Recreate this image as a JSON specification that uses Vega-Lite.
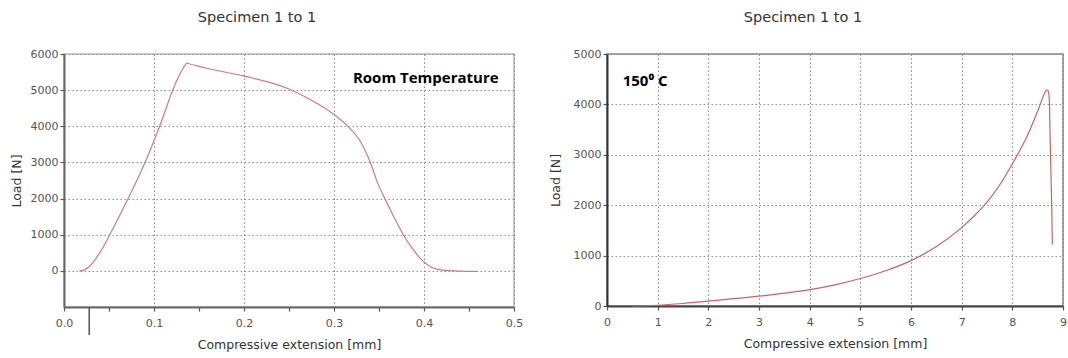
{
  "$schema": "https://vega.github.io/schema/vega-lite/v6.json",
  "background": "white",
  "padding": {"left": 9, "top": 8, "right": 5, "bottom": 5},
  "config": {
    "font": "DejaVu Sans",
    "axis": {
      "labelFont": "DejaVu Sans", "labelFontSize": 11, "labelColor": "#555",
      "titleFont": "DejaVu Sans", "titleFontSize": 12.5, "titleFontWeight": "normal", "titleColor": "#333",
      "domainColor": "#666", "domainWidth": 2,
      "tickColor": "#555", "tickWidth": 1.2, "tickSize": 4,
      "gridColor": "#8c8c8c", "gridDash": [1.5, 2.5], "gridWidth": 1,
      "labelFlush": false, "labelOverlap": false
    },
    "title": {"font": "DejaVu Sans", "fontSize": 14.5, "fontWeight": "normal", "color": "#333"},
    "concat": {"spacing": 24}
  },
  "hconcat": [
    {
      "width": 450, "height": 253,
      "title": {"text": "Specimen 1 to 1", "dx": -32, "offset": 23},
      "view": {"stroke": "#b8b8b8", "strokeWidth": 1.5},
      "layer": [
        {
          "data": {"values": [
            {"x": 0.017, "y": 0}, {"x": 0.022, "y": 20}, {"x": 0.030, "y": 170}, {"x": 0.040, "y": 510},
            {"x": 0.050, "y": 960}, {"x": 0.060, "y": 1440}, {"x": 0.070, "y": 1940}, {"x": 0.080, "y": 2450},
            {"x": 0.090, "y": 3000}, {"x": 0.100, "y": 3600}, {"x": 0.110, "y": 4250}, {"x": 0.120, "y": 4950},
            {"x": 0.130, "y": 5500}, {"x": 0.1345, "y": 5690}, {"x": 0.1365, "y": 5745}, {"x": 0.139, "y": 5730},
            {"x": 0.157, "y": 5613}, {"x": 0.200, "y": 5390},
            {"x": 0.250, "y": 5030}, {"x": 0.277, "y": 4690}, {"x": 0.300, "y": 4325}, {"x": 0.315, "y": 4010},
            {"x": 0.330, "y": 3550}, {"x": 0.340, "y": 3020}, {"x": 0.349, "y": 2400}, {"x": 0.3585, "y": 1900},
            {"x": 0.368, "y": 1420}, {"x": 0.377, "y": 1000}, {"x": 0.387, "y": 620}, {"x": 0.398, "y": 290},
            {"x": 0.409, "y": 92}, {"x": 0.421, "y": 18}, {"x": 0.440, "y": -8}, {"x": 0.459, "y": -15}
          ]},
          "mark": {"type": "line", "color": "#d9787b", "strokeWidth": 1.2, "interpolate": "monotone"},
          "encoding": {
            "x": {"field": "x", "type": "quantitative", "scale": {"domain": [0, 0.5], "nice": false},
              "axis": {"title": "Compressive extension [mm]",
                "values": [0, 0.05, 0.1, 0.15, 0.2, 0.25, 0.3, 0.35, 0.4, 0.45, 0.5],
                "format": ".1f", "labelOverlap": false,
                "labelExpr": "round(datum.value*20)%2===0 ? datum.label : ''",
                "gridOpacity": {"condition": {"test": "round(datum.value*20)%2===0", "value": 1}, "value": 0},
                "labelPadding": 6, "titlePadding": 10}},
            "y": {"field": "y", "type": "quantitative", "scale": {"domain": [-1000, 6000], "nice": false},
              "axis": {"title": "Load [N]",
                "values": [0, 1000, 2000, 3000, 4000, 5000, 6000],
                "format": "d", "labelOverlap": false,
                "labelPadding": 2, "titlePadding": 7}}
          }
        },
        {
          "data": {"values": [{"x": 0.028, "y": -1000, "y2": -1776}]},
          "mark": {"type": "rule", "color": "#555", "strokeWidth": 1.5},
          "encoding": {
            "x": {"field": "x", "type": "quantitative"},
            "y": {"field": "y", "type": "quantitative"},
            "y2": {"field": "y2"}
          }
        },
        {
          "data": {"values": [{"x": 0.321, "y": 5330, "label": "Room Temperature"}]},
          "mark": {"type": "text", "font": "Open Sans", "fontWeight": "bold", "fontSize": 15, "color": "#000", "align": "left", "baseline": "middle"},
          "encoding": {
            "x": {"field": "x", "type": "quantitative"},
            "y": {"field": "y", "type": "quantitative"},
            "text": {"field": "label"}
          }
        }
      ]
    },
    {
      "width": 456, "height": 252,
      "title": {"text": "Specimen 1 to 1", "dx": -32, "offset": 23},
      "view": {"stroke": "#888", "strokeWidth": 1.5},
      "layer": [
        {
          "data": {"values": [
            {"x": 0.5, "y": 0}, {"x": 1, "y": 15}, {"x": 1.5, "y": 50}, {"x": 2, "y": 95}, {"x": 2.5, "y": 145},
            {"x": 3, "y": 195}, {"x": 3.5, "y": 255}, {"x": 4, "y": 325}, {"x": 4.5, "y": 420}, {"x": 5, "y": 545},
            {"x": 5.5, "y": 700}, {"x": 6, "y": 900}, {"x": 6.5, "y": 1180}, {"x": 7, "y": 1556}, {"x": 7.25, "y": 1790},
            {"x": 7.5, "y": 2060}, {"x": 7.75, "y": 2400}, {"x": 8, "y": 2820}, {"x": 8.15, "y": 3090}, {"x": 8.3, "y": 3390},
            {"x": 8.45, "y": 3740}, {"x": 8.55, "y": 4000}, {"x": 8.63, "y": 4210}, {"x": 8.68, "y": 4290}, {"x": 8.71, "y": 4260},
            {"x": 8.73, "y": 4100}, {"x": 8.745, "y": 3400}, {"x": 8.76, "y": 2700}, {"x": 8.775, "y": 2100}, {"x": 8.79, "y": 1220}
          ]},
          "mark": {"type": "line", "color": "#cc6264", "strokeWidth": 1.2, "interpolate": "monotone"},
          "encoding": {
            "x": {"field": "x", "type": "quantitative", "scale": {"domain": [0, 9], "nice": false},
              "axis": {"title": "Compressive extension [mm]",
                "values": [0, 0.5, 1, 1.5, 2, 2.5, 3, 3.5, 4, 4.5, 5, 5.5, 6, 6.5, 7, 7.5, 8, 8.5, 9],
                "format": "d", "labelOverlap": false,
                "labelExpr": "datum.value%1===0 ? datum.label : ''",
                "gridOpacity": {"condition": {"test": "datum.value%1===0", "value": 1}, "value": 0},
                "domainColor": "#444", "labelPadding": 6, "titlePadding": 10}},
            "y": {"field": "y", "type": "quantitative", "scale": {"domain": [0, 5000], "nice": false},
              "axis": {"title": "Load [N]",
                "values": [0, 500, 1000, 1500, 2000, 2500, 3000, 3500, 4000, 4500, 5000],
                "format": "d", "labelOverlap": false,
                "labelExpr": "datum.value%1000===0 ? datum.label : ''",
                "gridOpacity": {"condition": {"test": "datum.value%1000===0", "value": 1}, "value": 0},
                "domainColor": "#333", "labelPadding": 2, "titlePadding": 11}}
          }
        },
        {
          "data": {"values": [{"x": 0.31, "y": 4470, "label": "150⁰ C"}]},
          "mark": {"type": "text", "font": "Open Sans", "fontWeight": "bold", "fontSize": 15, "color": "#000", "align": "left", "baseline": "middle"},
          "encoding": {
            "x": {"field": "x", "type": "quantitative"},
            "y": {"field": "y", "type": "quantitative"},
            "text": {"field": "label"}
          }
        }
      ]
    }
  ]
}
